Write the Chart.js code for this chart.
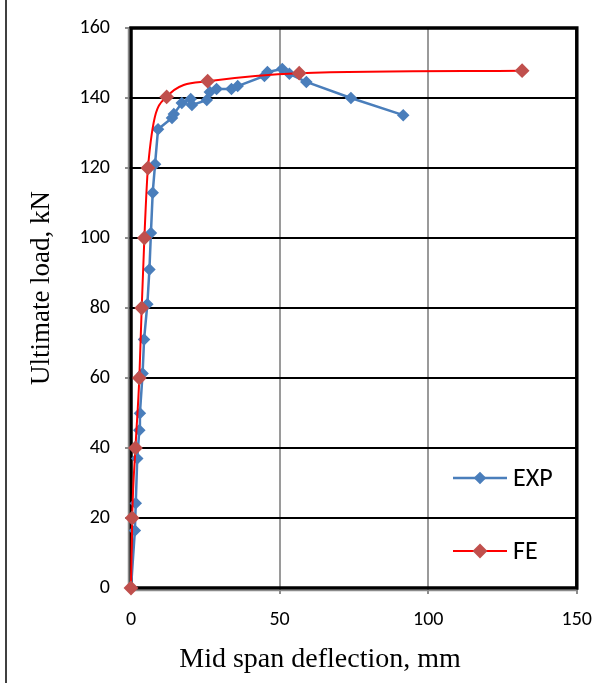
<!DOCTYPE html>
<html>
<head>
<meta charset="utf-8">
<script src="https://cdn.jsdelivr.net/npm/chart.js@4.4.1/dist/chart.umd.min.js"></script>
<style>
  html, body { margin: 0; padding: 0; background: #fff; }
  #wrap { position: relative; width: 606px; height: 683px; }
</style>
</head>
<body>
<div id="wrap"><canvas id="loadChart"></canvas></div>
<script>
// mid span deflection (mm) against load (kN)
const expDeflection = [0, 1.3, 1.6, 2.1, 2.8, 3.0, 3.9, 4.4, 5.5, 6.2, 6.7, 7.3, 8.1, 9.1, 13.8, 14.4, 17.1, 20.1, 20.5, 25.5, 26.5, 28.8, 33.8, 35.9, 44.9, 45.9, 50.9, 53.3, 59.0, 74.0, 91.6];
const expLoad = [0, 16.4, 24.2, 37, 45.1, 49.9, 61.3, 71, 81.1, 91, 101.4, 112.9, 121.1, 131.1, 134.3, 135.4, 138.6, 139.7, 138, 139.4, 141.7, 142.6, 142.6, 143.4, 146.3, 147.4, 148.3, 146.9, 144.6, 140, 135.1];

const feDeflection = [0, 0.4, 1.5, 2.8, 3.6, 4.5, 5.7, 12.0, 25.8, 56.6, 131.6];
const feLoad = [0, 20, 40, 60, 80, 100, 120, 140.3, 144.8, 147.1, 147.8];

const seriesNames = ['EXP', 'FE'];
const xTicks = [0, 50, 100, 150];
const yTicks = [0, 20, 40, 60, 80, 100, 120, 140, 160];

const xTitle = 'Mid span deflection, mm';
const yTitle = 'Ultimate load, kN';

const toPoints = (xs, ys) => xs.map((x, i) => ({ x, y: ys[i] }));

const tickFont = { family: 'Carlito, Lato, "Open Sans", sans-serif', size: 20 };
const titleFont = '28px "Liberation Serif", "Times New Roman", serif';

// frame round the plot area, drawn under the lines
const framePlugin = {
    id: 'frame',
    beforeDatasetsDraw(chart) {
        const { ctx, chartArea: a } = chart;
        ctx.save();
        ctx.strokeStyle = '#000';
        ctx.lineWidth = 3.5;
        ctx.strokeRect(a.left, a.top, a.right - a.left, a.bottom - a.top);
        ctx.strokeStyle = '#8c8c8c';
        ctx.lineWidth = 1.5;
        ctx.beginPath();
        ctx.moveTo(a.left - 2.5, a.top);
        ctx.lineTo(a.left - 2.5, a.bottom + 2.5);
        ctx.lineTo(a.right, a.bottom + 2.5);
        ctx.stroke();
        ctx.restore();
    }
};

// axis titles, legend inside the plot, outer border
const extrasPlugin = {
    id: 'extras',
    afterDraw(chart) {
        const { ctx } = chart;
        ctx.save();
        ctx.fillStyle = '#000';
        ctx.font = titleFont;
        ctx.textAlign = 'center';
        ctx.textBaseline = 'middle';
        ctx.fillText(xTitle, 320, 660);
        ctx.translate(42, 288);
        ctx.rotate(-Math.PI / 2);
        ctx.font = '27px "Liberation Serif", "Times New Roman", serif';
        ctx.fillText(yTitle, 0, 0);
        ctx.restore();

        ctx.save();
        ctx.strokeStyle = '#000';
        ctx.lineWidth = 1.5;
        ctx.beginPath();
        ctx.moveTo(6, 0);
        ctx.lineTo(6, 683);
        ctx.stroke();
        ctx.restore();
    },
    afterDatasetsDraw(chart) {
        const { ctx } = chart;
        const rows = [478, 551];
        ctx.save();
        chart.data.datasets.forEach((ds) => {
            const i = seriesNames.indexOf(ds.label);
            const y = rows[i];
            ctx.strokeStyle = ds.borderColor;
            ctx.lineWidth = ds.borderWidth;
            ctx.beginPath();
            ctx.moveTo(453, y);
            ctx.lineTo(507, y);
            ctx.stroke();
            ctx.fillStyle = ds.pointBackgroundColor;
            ctx.strokeStyle = ds.pointBorderColor;
            Chart.helpers.drawPoint(ctx, { pointStyle: 'rectRot', radius: ds.pointRadius, rotation: 0, borderWidth: 1 }, 480, y);
            ctx.fillStyle = '#000';
            ctx.font = '26px Carlito, Lato, "Open Sans", sans-serif';
            ctx.textAlign = 'left';
            ctx.textBaseline = 'middle';
            ctx.fillText(ds.label, 513, y + 1);
        });
        ctx.restore();
    }
};

new Chart(document.getElementById('loadChart'), {
    type: 'scatter',
    data: {
        datasets: [
            {
                label: seriesNames[1],
                data: toPoints(feDeflection, feLoad),
                showLine: true,
                borderColor: '#ff0000',
                borderWidth: 2,
                cubicInterpolationMode: 'monotone',
                pointStyle: 'rectRot',
                pointRadius: 6,
                pointBackgroundColor: '#c0504d',
                pointBorderColor: '#c0504d',
                clip: false,
                order: 1
            },
            {
                label: seriesNames[0],
                data: toPoints(expDeflection, expLoad),
                showLine: true,
                borderColor: '#4a7ebb',
                borderWidth: 2.5,
                tension: 0,
                pointStyle: 'rectRot',
                pointRadius: 4.5,
                pointBackgroundColor: '#4a7ebb',
                pointBorderColor: '#4a7ebb',
                clip: false,
                order: 2
            }
        ]
    },
    options: {
        responsive: true,
        maintainAspectRatio: false,
        animation: false,
        layout: { padding: { top: 28, right: 28, left: 0, bottom: 0 } },
        plugins: {
            legend: { display: false },
            tooltip: { enabled: false }
        },
        scales: {
            x: {
                type: 'linear',
                min: 0,
                max: 150,
                afterBuildTicks: (scale) => { scale.ticks = xTicks.map(v => ({ value: v })); },
                afterFit: (scale) => { scale.height = 95; },
                grid: { color: '#9a9a9a', lineWidth: 2, tickColor: '#8c8c8c', tickLength: 6 },
                border: { display: false },
                ticks: { color: '#000', font: tickFont, padding: 14, maxRotation: 0 }
            },
            y: {
                type: 'linear',
                min: 0,
                max: 160,
                afterBuildTicks: (scale) => { scale.ticks = yTicks.map(v => ({ value: v })); },
                afterFit: (scale) => { scale.width = 131; },
                grid: { color: '#000', lineWidth: 2, tickColor: '#8c8c8c', tickLength: 6 },
                border: { display: false },
                ticks: { color: '#000', font: tickFont, padding: 15 }
            }
        }
    },
    plugins: [framePlugin, extrasPlugin]
});
</script>
</body>
</html>
